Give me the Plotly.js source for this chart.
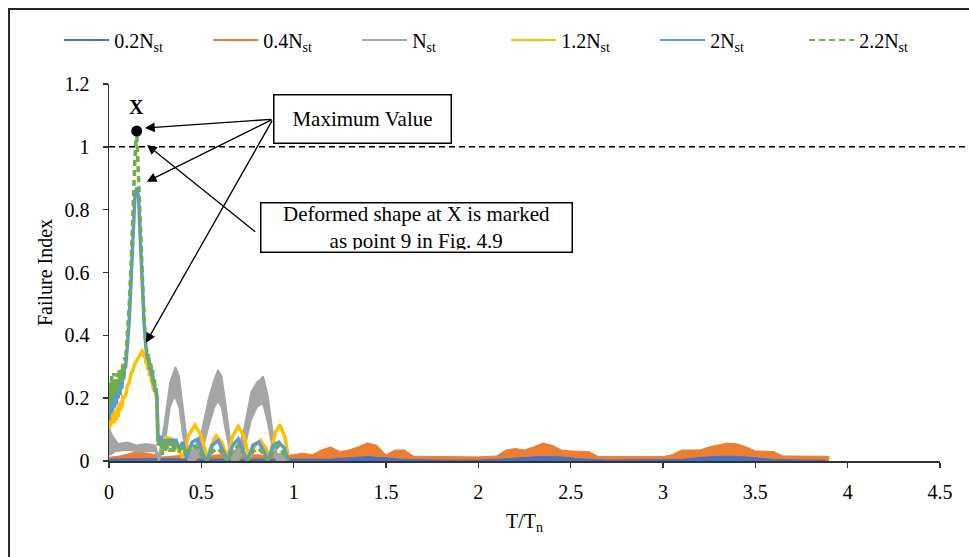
<!DOCTYPE html>
<html>
<head>
<meta charset="utf-8">
<script src="https://cdn.plot.ly/plotly-3.0.1.min.js"></script>
<style>
  html, body { margin: 0; padding: 0; background: #fff; }
  #chart { width: 969px; height: 557px; }
</style>
</head>
<body>
<div id="chart"></div>
<script>
// ---- Failure index vs. normalised period T/Tn for six axial load levels ----

// 0.2 Nst (low amplitude, drawn from zero)
const t02  = [0, 0.25, 0.5, 0.75, 1.0, 1.2, 1.3, 1.4, 1.5, 1.6, 1.8, 2.0, 2.15, 2.25, 2.35, 2.45, 2.55, 2.7, 2.9, 3.1, 3.2, 3.3, 3.4, 3.5, 3.6, 3.75, 3.88];
const fi02 = [0.006, 0.008, 0.006, 0.006, 0.005, 0.006, 0.01, 0.014, 0.01, 0.005, 0.003, 0.003, 0.007, 0.011, 0.015, 0.013, 0.007, 0.003, 0.003, 0.005, 0.011, 0.015, 0.015, 0.011, 0.005, 0.003, 0.003];

// 0.4 Nst (upper envelope of the oscillation)
const t04  = [0, 0.05, 0.1, 0.15, 0.2, 0.26, 0.27, 0.4, 0.5, 0.6, 0.7, 0.8, 0.9, 1.0,
              1.05, 1.1, 1.15, 1.2, 1.25, 1.3, 1.35, 1.4, 1.45, 1.5, 1.55, 1.6, 1.65,
              1.8, 2.0, 2.1,
              2.15, 2.2, 2.25, 2.3, 2.35, 2.4, 2.45, 2.5, 2.55, 2.6, 2.65,
              2.8, 3.0,
              3.05, 3.1, 3.15, 3.2, 3.25, 3.3, 3.35, 3.4, 3.45, 3.5, 3.55, 3.6, 3.65,
              3.8, 3.9];
const fi04 = [0.012, 0.015, 0.022, 0.03, 0.025, 0.02, 0.012, 0.018, 0.015, 0.02, 0.015, 0.02, 0.015, 0.02,
              0.025, 0.02, 0.035, 0.045, 0.03, 0.035, 0.045, 0.058, 0.05, 0.02, 0.035, 0.035, 0.015,
              0.014, 0.013, 0.016,
              0.035, 0.04, 0.035, 0.045, 0.057, 0.05, 0.035, 0.032, 0.032, 0.03, 0.014,
              0.013, 0.014,
              0.02, 0.035, 0.035, 0.035, 0.045, 0.05, 0.057, 0.055, 0.045, 0.032, 0.032, 0.03, 0.016,
              0.015, 0.015];

// Nst (wide band: upper and lower envelope)
const tN    = [0, 0.01, 0.03, 0.05, 0.1, 0.15, 0.2, 0.25, 0.27, 0.3, 0.33, 0.35, 0.36, 0.38, 0.4, 0.43, 0.46, 0.5, 0.54, 0.57, 0.59, 0.61, 0.63, 0.665, 0.7, 0.73, 0.77, 0.8, 0.82, 0.835, 0.86, 0.89, 0.91, 0.95, 0.97];
const fiNhi = [0.11, 0.09, 0.07, 0.055, 0.06, 0.05, 0.055, 0.05, 0.015, 0.12, 0.25, 0.28, 0.30, 0.27, 0.17, 0.03, 0.04, 0.09, 0.2, 0.26, 0.29, 0.27, 0.19, 0.03, 0.04, 0.10, 0.22, 0.25, 0.26, 0.27, 0.21, 0.08, 0.02, 0.03, 0.01];
const fiNlo = [0.02, 0.02, 0.03, 0.03, 0.035, 0.03, 0.03, 0.03, 0.0, 0.04, 0.17, 0.2, 0.2, 0.17, 0.08, 0.0, 0.0, 0.02, 0.11, 0.17, 0.19, 0.17, 0.1, 0.0, 0.0, 0.03, 0.13, 0.17, 0.18, 0.18, 0.12, 0.02, 0.0, 0.0, 0.0];

// 1.2 Nst
const t12  = [0, 0.005, 0.01, 0.015, 0.02, 0.025, 0.03, 0.035, 0.04, 0.045, 0.05, 0.055, 0.06, 0.065, 0.07, 0.075, 0.08, 0.09, 0.10, 0.11, 0.12, 0.13, 0.14, 0.15, 0.16, 0.17, 0.18, 0.185,
              0.19, 0.195, 0.2, 0.205, 0.21, 0.215, 0.22, 0.225, 0.23, 0.235, 0.24, 0.25, 0.26, 0.265,
              0.28, 0.31, 0.34, 0.37, 0.40, 0.43, 0.465, 0.5, 0.53, 0.555, 0.58, 0.61, 0.64, 0.67, 0.70, 0.73, 0.76, 0.79, 0.82, 0.85, 0.87, 0.9, 0.925, 0.95, 0.97];
const fi12 = [0.10, 0.15, 0.11, 0.14, 0.12, 0.16, 0.12, 0.15, 0.13, 0.17, 0.14, 0.18, 0.16, 0.19, 0.17, 0.21, 0.2, 0.21, 0.24, 0.25, 0.28, 0.29, 0.31, 0.32, 0.33, 0.335, 0.35, 0.345,
              0.33, 0.34, 0.31, 0.32, 0.29, 0.3, 0.27, 0.28, 0.25, 0.26, 0.23, 0.22, 0.2, 0.07,
              0.06, 0.075, 0.07, 0.04, 0.01, 0.08, 0.115, 0.08, 0.01, 0.05, 0.08, 0.06, 0.01, 0.08, 0.11, 0.08, 0.01, 0.05, 0.065, 0.04, 0.01, 0.09, 0.115, 0.08, 0.02];

// 2 Nst and 2.2 Nst share the same sampling
const tHi  = [0, 0.005, 0.01, 0.015, 0.02, 0.025, 0.03, 0.035, 0.04, 0.045, 0.05, 0.055, 0.06, 0.065, 0.07, 0.075, 0.08, 0.085, 0.09, 0.095,
              0.10, 0.11, 0.12, 0.13, 0.14, 0.15, 0.16, 0.17, 0.18, 0.19,
              0.20, 0.205, 0.21, 0.215, 0.22, 0.225, 0.23, 0.235, 0.24, 0.245, 0.25, 0.255, 0.26, 0.265,
              0.28, 0.29, 0.30, 0.31, 0.32, 0.33, 0.34, 0.35, 0.36, 0.38, 0.40, 0.42, 0.45, 0.48, 0.51, 0.53, 0.56, 0.59, 0.62, 0.64, 0.67, 0.70, 0.73, 0.75, 0.78, 0.81, 0.84, 0.86, 0.89, 0.92, 0.95, 0.97];
const fi20 = [0.13, 0.21, 0.15, 0.22, 0.16, 0.23, 0.17, 0.22, 0.18, 0.24, 0.2, 0.25, 0.21, 0.26, 0.23, 0.28, 0.26, 0.3, 0.3, 0.33,
              0.37, 0.45, 0.57, 0.72, 0.84, 0.87, 0.84, 0.7, 0.55, 0.44,
              0.36, 0.34, 0.32, 0.33, 0.29, 0.31, 0.27, 0.29, 0.24, 0.26, 0.22, 0.23, 0.19, 0.06,
              0.08, 0.04, 0.07, 0.04, 0.07, 0.05, 0.07, 0.04, 0.07, 0.04, 0.06, 0.01, 0.06, 0.07, 0.02, 0.0, 0.05, 0.065, 0.03, 0.0, 0.05, 0.07, 0.03, 0.0, 0.05, 0.06, 0.03, 0.0, 0.05, 0.06, 0.04, 0.0];
const fi22 = [0.17, 0.25, 0.18, 0.27, 0.2, 0.28, 0.21, 0.26, 0.22, 0.28, 0.23, 0.29, 0.25, 0.29, 0.26, 0.31, 0.28, 0.33, 0.32, 0.36,
              0.4, 0.5, 0.63, 0.8, 0.96, 1.05, 0.91, 0.73, 0.57, 0.45,
              0.37, 0.35, 0.33, 0.34, 0.3, 0.31, 0.28, 0.29, 0.25, 0.26, 0.22, 0.23, 0.2, 0.05,
              0.07, 0.02, 0.06, 0.03, 0.07, 0.03, 0.06, 0.03, 0.06, 0.03, 0.05, 0.02, 0.05, 0.04, 0.01, 0.0, 0.03, 0.04, 0.02, 0.0, 0.03, 0.05, 0.02, 0.0, 0.03, 0.04, 0.02, 0.0, 0.03, 0.05, 0.02, 0.0];

const seriesNames = ['0.2N<sub>st</sub>', '0.4N<sub>st</sub>', 'N<sub>st</sub>', '1.2N<sub>st</sub>', '2N<sub>st</sub>', '2.2N<sub>st</sub>'];
const limitFI = 1;   // failure threshold

// ---- styling ----
const FONT = 'Liberation Serif, Times New Roman, serif';
const C = { b02: '#4472C4', o04: '#ED7D31', gN: '#A5A5A5', y12: '#FFC000', b20: '#5B9BD5', g22: '#70AD47' };

function rev(a) { return a.slice().reverse(); }

const traces = [
  { x: t04, y: fi04, mode: 'lines', fill: 'tozeroy', fillcolor: C.o04, line: { color: C.o04, width: 1 }, showlegend: false, hoverinfo: 'skip' },
  { x: t02, y: fi02, mode: 'lines', fill: 'tozeroy', fillcolor: C.b02, line: { color: C.b02, width: 1 }, showlegend: false, hoverinfo: 'skip' },
  { x: tN.concat(rev(tN)), y: fiNhi.concat(rev(fiNlo)), mode: 'lines', fill: 'toself', fillcolor: C.gN, line: { color: C.gN, width: 1.5 }, showlegend: false, hoverinfo: 'skip' },
  { x: t12, y: fi12, mode: 'lines', line: { color: C.y12, width: 3.5 }, showlegend: false },
  { x: tHi, y: fi20, mode: 'lines', line: { color: C.b20, width: 3.5 }, showlegend: false },
  { x: tHi, y: fi22, mode: 'lines', line: { color: C.g22, width: 3.5, dash: '6px,4px' }, showlegend: false }
];

// legend entries (line samples)
const legendStyles = [
  { color: C.b02, width: 2 }, { color: C.o04, width: 2 }, { color: C.gN, width: 2 },
  { color: C.y12, width: 2 }, { color: C.b20, width: 2 }, { color: C.g22, width: 2, dash: '6px,4px' }
];
seriesNames.forEach((n, i) => {
  traces.push({ x: [null], y: [null], mode: 'lines', name: n, line: legendStyles[i], showlegend: true });
});

// maximum point "X" on the 2.2 Nst curve
const iMax = fi22.indexOf(Math.max.apply(null, fi22));
const xMax = tHi[iMax], yMax = fi22[iMax];
traces.push({ x: [xMax], y: [yMax], mode: 'markers', marker: { color: '#000', size: 11 }, showlegend: false, hoverinfo: 'skip' });

const arrowBase = { showarrow: true, arrowhead: 2, arrowsize: 1.5, arrowwidth: 1.3, arrowcolor: '#000', axref: 'x', ayref: 'y', text: '' };

const layout = {
  width: 969, height: 557,
  margin: { l: 109, r: 29, t: 84, b: 96 },
  paper_bgcolor: '#fff', plot_bgcolor: '#fff',
  font: { family: FONT, size: 20, color: '#000' },
  showlegend: true,
  legend: { orientation: 'h', x: -0.06, y: 1.117, xanchor: 'left', yanchor: 'middle',
            font: { family: FONT, size: 20 }, entrywidth: 89, entrywidthmode: 'pixels', itemwidth: 45, traceorder: 'normal' },
  xaxis: { range: [0, 4.5], dtick: 0.5, tick0: 0, showgrid: false, zeroline: false,
           showline: true, linecolor: '#333', linewidth: 1.5, ticks: 'outside', ticklen: 5, tickcolor: '#333', tickwidth: 1.5,
           ticklabelstandoff: 7, tickfont: { size: 20 },
           title: { text: 'T/T<sub>n</sub>', font: { size: 20 }, standoff: 12 } },
  yaxis: { range: [0, 1.2], dtick: 0.2, tick0: 0, showgrid: false, zeroline: false,
           showline: true, linecolor: '#333', linewidth: 1.5, ticks: 'outside', ticklen: 5, tickcolor: '#333', tickwidth: 1.5,
           ticklabelstandoff: 9, tickfont: { size: 20 },
           title: { text: 'Failure Index', font: { size: 20 }, standoff: 6 } },
  shapes: [
    // outer frame
    { type: 'rect', xref: 'paper', yref: 'paper', x0: -0.1203, x1: 1.2, y0: -0.4, y1: 1.199,
      line: { color: '#262626', width: 2 }, fillcolor: 'rgba(0,0,0,0)', layer: 'below' },
    // failure threshold
    { type: 'line', xref: 'paper', yref: 'y', x0: 0, x1: 1.031, y0: limitFI, y1: limitFI,
      line: { color: '#000', width: 1.5, dash: '6px,4px' } }
  ],
  annotations: [
    { x: xMax, y: yMax, text: '<b>X</b>', showarrow: false, yshift: 24, font: { size: 20 } },
    Object.assign({ x: 0.195, y: 1.06, ax: 0.888, ay: 1.088 }, arrowBase),
    Object.assign({ x: 0.204, y: 0.889, ax: 0.888, ay: 1.088 }, arrowBase),
    Object.assign({ x: 0.2, y: 0.376, ax: 0.888, ay: 1.088 }, arrowBase),
    Object.assign({ x: 0.206, y: 1.006, ax: 0.80, ay: 0.726 }, arrowBase),
    { x: 1.375, y: 1.088, text: 'Maximum Value', showarrow: false, bgcolor: '#fff', bordercolor: '#000', borderwidth: 1.5,
      width: 172, height: 43, borderpad: 2, font: { size: 21 } },
    { x: 1.665, y: 0.742, text: 'Deformed shape at X is marked<br>as point 9 in Fig. 4.9', showarrow: false,
      bgcolor: '#fff', bordercolor: '#000', borderwidth: 1.5, width: 306, height: 44, borderpad: 2, font: { size: 21 } }
  ]
};

Plotly.newPlot('chart', traces, layout, { staticPlot: true, displayModeBar: false });
</script>
</body>
</html>
